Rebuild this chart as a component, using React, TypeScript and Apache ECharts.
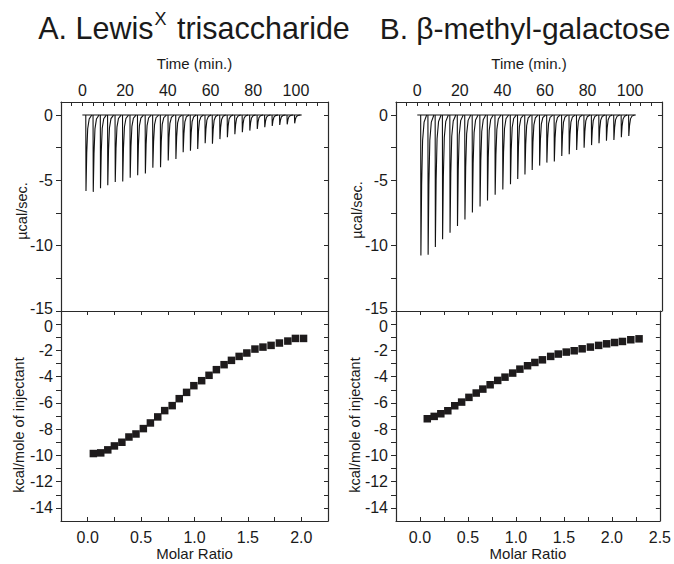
import React, { useEffect, useRef } from 'react';
import * as echarts from 'echarts';

// Injection times (min)
const injectionTimes = [1.6, 5.0, 8.4, 11.8, 15.3, 18.8, 22.3, 25.8, 29.4, 32.9, 36.5, 40.1, 43.7, 47.1, 50.5, 53.9, 57.4, 60.8, 64.3, 67.8, 71.3, 74.8, 78.3, 81.8, 85.3, 88.8, 92.3, 95.8, 99.3];
const runStart = 0;
const runEnd = 102.7;

// Peak minima (µcal/sec)
const peaksA = [-5.81, -5.88, -5.61, -5.38, -5.13, -5.08, -4.8, -4.6, -4.47, -4.04, -3.99, -3.48, -3.36, -2.85, -2.73, -2.6, -2.15, -2.2, -1.84, -1.69, -1.46, -1.31, -1.19, -1.06, -0.93, -0.83, -0.76, -0.71, -0.63];
const peaksB = [-10.76, -10.7, -10.1, -9.5, -9.0, -8.5, -8.0, -7.45, -7.0, -6.55, -6.1, -5.7, -5.3, -4.9, -4.55, -4.2, -3.87, -3.64, -3.56, -3.13, -3.0, -2.67, -2.5, -2.3, -2.16, -1.96, -1.9, -1.7, -1.6];

// Integrated heats
const ratioA = [0.053, 0.122, 0.188, 0.25, 0.32, 0.386, 0.452, 0.521, 0.587, 0.656, 0.721, 0.791, 0.857, 0.926, 0.994, 1.067, 1.136, 1.205, 1.277, 1.346, 1.418, 1.49, 1.566, 1.641, 1.717, 1.795, 1.874, 1.945, 2.021];
const heatA = [-9.86, -9.81, -9.58, -9.28, -9.0, -8.6, -8.37, -7.96, -7.53, -7.07, -6.59, -6.21, -5.68, -5.2, -4.69, -4.31, -3.9, -3.47, -3.09, -2.76, -2.46, -2.2, -1.9, -1.75, -1.62, -1.44, -1.29, -1.09, -1.09];
const ratioB = [0.076, 0.148, 0.217, 0.29, 0.362, 0.434, 0.51, 0.586, 0.655, 0.731, 0.81, 0.886, 0.966, 1.041, 1.121, 1.197, 1.276, 1.362, 1.441, 1.524, 1.607, 1.69, 1.776, 1.862, 1.945, 2.028, 2.11, 2.197, 2.283];
const heatB = [-7.21, -7.03, -6.83, -6.6, -6.22, -5.94, -5.58, -5.25, -4.95, -4.62, -4.29, -4.04, -3.73, -3.43, -3.17, -2.92, -2.72, -2.46, -2.28, -2.13, -2.03, -1.88, -1.75, -1.62, -1.5, -1.4, -1.32, -1.19, -1.12];

// Tick labels
const timeTickLabels = [0, 20, 40, 60, 80, 100];
const powerTickLabels = [0, -5, -10, -15];
const heatTickLabels = [0, -2, -4, -6, -8, -10, -12, -14];
const ratioTickLabels = [0, 0.5, 1, 1.5, 2, 2.5];

const FONT = '"Liberation Sans", Arial, Helvetica, sans-serif';
const INK = '#1e1b1c';
const AXIS = '#2a2a2a';
const TXT = '#1a1a1a';

const panels = [
  { left: 61, width: 267, ratioMax: 2.25, peaks: peaksA, ratio: ratioA, heat: heatA },
  { left: 396, width: 266, ratioMax: 2.5, peaks: peaksB, ratio: ratioB, heat: heatB },
];
const TOP1 = 102, H1 = 209, TOP2 = 311, H2 = 210;

function peakRender(params: any, api: any) {
  const t = api.value(0);
  const d = api.value(1);
  const pts = [
    api.coord([t, 0]),
    api.coord([t + 0.1, d]),
    api.coord([t + 0.45, d * 0.5]),
    api.coord([t + 0.9, d * 0.18]),
    api.coord([t + 1.6, d * 0.05]),
    api.coord([t + 2.8, 0]),
  ];
  return {
    type: 'polyline',
    shape: { points: pts },
    style: { stroke: '#111', fill: 'none', lineWidth: 1.1 },
  };
}

function buildOption() {
  const grid: any[] = [];
  const xAxis: any[] = [];
  const yAxis: any[] = [];
  const series: any[] = [];
  const axisLine = { show: true, onZero: false, lineStyle: { color: AXIS, width: 1.2 } };
  const label = { color: TXT, fontSize: 16, fontFamily: FONT };

  panels.forEach((p, i) => {
    const g1 = i * 2;
    const g2 = i * 2 + 1;
    grid.push({ left: p.left, top: TOP1, width: p.width, height: H1 });
    grid.push({ left: p.left, top: TOP2, width: p.width, height: H2 });

    const xi = xAxis.length;
    // time axis (top)
    xAxis.push({
      type: 'value', gridIndex: g1, position: 'top', min: -10, max: 115, interval: 5,
      name: 'Time (min.)', nameLocation: 'middle', nameGap: 31,
      nameTextStyle: { color: TXT, fontSize: 15, fontFamily: FONT },
      axisLine, axisTick: { show: true, inside: true, length: 4, lineStyle: { color: AXIS } },
      axisLabel: { ...label, margin: 4, formatter: (v: number) => (timeTickLabels.includes(v) ? String(v) : '') },
      splitLine: { show: false },
    });
    // molar ratio axis (bottom)
    xAxis.push({
      type: 'value', gridIndex: g2, position: 'bottom', min: -0.25, max: p.ratioMax, interval: 0.25,
      name: 'Molar Ratio', nameLocation: 'middle', nameGap: 25,
      nameTextStyle: { color: TXT, fontSize: 15, fontFamily: FONT },
      axisLine, axisTick: { show: true, inside: true, length: 4, lineStyle: { color: AXIS } },
      axisLabel: {
        ...label, margin: 8, showMinLabel: false,
        formatter: (v: number) => (ratioTickLabels.some((r) => Math.abs(r - v) < 1e-6) ? v.toFixed(1) : ''),
      },
      splitLine: { show: false },
    });
    // molar ratio mirror (top of lower panel)
    xAxis.push({
      type: 'value', gridIndex: g2, position: 'top', min: -0.25, max: p.ratioMax, interval: 0.25,
      axisLine, axisTick: { show: true, inside: true, length: 4, lineStyle: { color: AXIS } },
      axisLabel: { show: false }, splitLine: { show: false },
    });

    const yi = yAxis.length;
    yAxis.push({
      type: 'value', gridIndex: g1, position: 'left', min: -15, max: 1, interval: 2.5,
      axisLine, axisTick: { show: true, inside: false, length: 5, lineStyle: { color: AXIS } },
      axisLabel: {
        ...label, margin: 8, showMaxLabel: false,
        formatter: (v: number) => (v === -15 ? '{lo|-15}' : powerTickLabels.includes(v) ? String(v) : ''),
        rich: { lo: { fontSize: 16, fontFamily: FONT, color: TXT, padding: [0, 0, 6, 0] } },
      },
      splitLine: { show: false },
    });
    yAxis.push({
      type: 'value', gridIndex: g1, position: 'right', min: -15, max: 1, interval: 2.5,
      axisLine, axisTick: { show: true, inside: true, length: 4, lineStyle: { color: AXIS } },
      axisLabel: { show: false }, splitLine: { show: false },
    });
    yAxis.push({
      type: 'value', gridIndex: g2, position: 'left', min: -15, max: 1, interval: 1,
      axisLine, axisTick: { show: true, inside: false, length: 5, lineStyle: { color: AXIS } },
      axisLabel: {
        ...label, margin: 8, showMaxLabel: false, showMinLabel: false,
        formatter: (v: number) => (v === 0 ? '{hi|0}' : heatTickLabels.includes(v) ? String(v) : ''),
        rich: { hi: { fontSize: 16, fontFamily: FONT, color: TXT, padding: [4, 0, 0, 0] } },
      },
      splitLine: { show: false },
    });
    yAxis.push({
      type: 'value', gridIndex: g2, position: 'right', min: -15, max: 1, interval: 1,
      axisLine, axisTick: { show: true, inside: true, length: 4, lineStyle: { color: AXIS } },
      axisLabel: { show: false }, splitLine: { show: false },
    });

    series.push({
      type: 'line', xAxisIndex: xi, yAxisIndex: yi, data: [[runStart, 0], [runEnd, 0]],
      showSymbol: false, symbol: 'none', lineStyle: { color: '#111', width: 1.1 }, silent: true,
    });
    series.push({
      type: 'custom', xAxisIndex: xi, yAxisIndex: yi, clip: true,
      data: injectionTimes.map((t, k) => [t, p.peaks[k]]),
      renderItem: peakRender, silent: true,
    });
    series.push({
      type: 'scatter', xAxisIndex: xi + 1, yAxisIndex: yi + 2,
      data: p.ratio.map((r, k) => [r, p.heat[k]]),
      symbol: 'rect', symbolSize: 7.5, itemStyle: { color: INK, opacity: 1 }, silent: true,
    });
  });

  const yName = (text: string, x: number, y: number) => ({
    type: 'text', x, y, rotation: Math.PI / 2,
    style: { text, fill: TXT, fontSize: 14.5, fontFamily: FONT, align: 'center', verticalAlign: 'middle' },
  });

  const graphic = [
    {
      type: 'text', x: 194, y: 28,
      style: {
        text: '{n|A. Lewis}{s|X}{n| trisaccharide}',
        align: 'center', verticalAlign: 'middle', fill: TXT,
        rich: {
          n: { fontSize: 30.5, fontFamily: FONT, fill: TXT, lineHeight: 36 },
          s: { fontSize: 18, fontFamily: FONT, fill: TXT, verticalAlign: 'top', lineHeight: 20, padding: [0, 2, 0, 1] },
        },
      },
    },
    {
      type: 'text', x: 525, y: 28,
      style: { text: 'B. β-methyl-galactose', align: 'center', verticalAlign: 'middle', fill: TXT, fontSize: 30, fontFamily: FONT },
    },
    yName('µcal/sec.', 22, 211),
    yName('kcal/mole of injectant', 19, 425),
    yName('µcal/sec.', 357, 210),
    yName('kcal/mole of injectant', 355, 425),
  ];

  return { animation: false, backgroundColor: '#fff', grid, xAxis, yAxis, series, graphic };
}

export default function App() {
  const ref = useRef<HTMLDivElement>(null);
  useEffect(() => {
    if (!ref.current) return;
    const chart = echarts.init(ref.current, undefined, { renderer: 'svg' });
    chart.setOption(buildOption() as any);
    return () => chart.dispose();
  }, []);
  return <div ref={ref} style={{ position: 'fixed', left: 0, top: 0, width: 674, height: 564, background: '#fff' }} />;
}
